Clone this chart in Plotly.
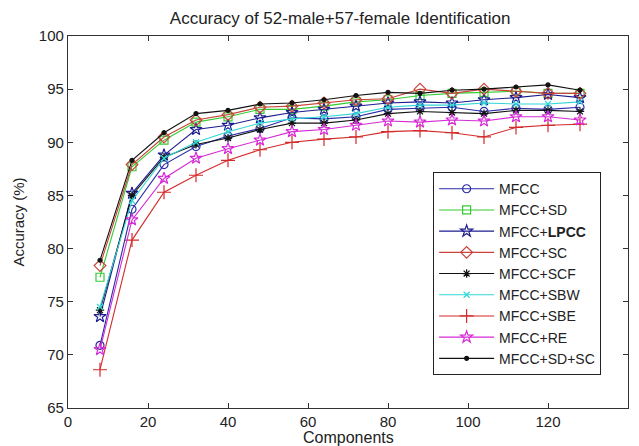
import plotly.graph_objects as go

components = [8, 16, 24, 32, 40, 48, 56, 64, 72, 80, 88, 96, 104, 112, 120, 128]

mfcc      = [70.9, 83.7, 87.9, 89.6, 90.6, 91.3, 92.3, 92.2, 92.4, 93.1, 93.2, 93.3, 92.9, 93.2, 93.1, 93.3]
mfcc_sd   = [77.3, 87.7, 90.2, 91.9, 92.4, 93.1, 93.1, 93.4, 93.8, 94.0, 94.4, 94.6, 94.7, 94.8, 94.6, 94.6]
mfcc_lpcc = [73.6, 85.2, 88.8, 91.2, 91.6, 92.3, 92.8, 93.1, 93.4, 93.7, 93.8, 93.7, 94.0, 94.2, 94.5, 94.2]
mfcc_sc   = [78.4, 87.9, 90.5, 92.1, 92.6, 93.3, 93.4, 93.7, 94.0, 94.1, 95.0, 94.6, 95.0, 94.8, 94.6, 94.6]
mfcc_scf  = [74.2, 85.0, 88.6, 89.8, 90.4, 91.2, 91.8, 91.8, 92.1, 92.7, 92.9, 92.8, 92.7, 93.0, 93.0, 92.9]
mfcc_sbw  = [74.5, 84.5, 88.5, 90.0, 91.0, 91.8, 92.2, 92.4, 92.7, 93.3, 93.5, 93.5, 93.7, 93.6, 93.6, 93.8]
mfcc_sbe  = [68.6, 80.8, 85.3, 86.9, 88.3, 89.3, 90.0, 90.3, 90.5, 91.0, 91.1, 90.9, 90.5, 91.4, 91.6, 91.7]
mfcc_re   = [70.5, 82.7, 86.6, 88.5, 89.4, 90.2, 91.0, 91.2, 91.6, 92.0, 91.9, 92.1, 92.0, 92.4, 92.4, 92.1]
mfcc_sdsc = [78.9, 88.3, 90.9, 92.7, 93.0, 93.6, 93.7, 94.0, 94.4, 94.7, 94.6, 94.9, 95.0, 95.2, 95.4, 94.9]

series_names = ["MFCC", "MFCC+SD", "MFCC+<b>LPCC</b>", "MFCC+SC", "MFCC+SCF",
                "MFCC+SBW", "MFCC+SBE", "MFCC+RE", "MFCC+SD+SC"]
series_values = [mfcc, mfcc_sd, mfcc_lpcc, mfcc_sc, mfcc_scf, mfcc_sbw, mfcc_sbe, mfcc_re, mfcc_sdsc]

styles = [
    dict(color="#2a2aa8", symbol="circle-open", size=8),
    dict(color="#33cc33", symbol="square-open", size=8),
    dict(color="#1c1c90", symbol="star-open", size=9),
    dict(color="#c8443a", symbol="diamond-open", size=9),
    dict(color="#111111", symbol="asterisk-open", size=7),
    dict(color="#33d6d6", symbol="x-thin-open", size=6),
    dict(color="#d42a2a", symbol="cross-thin-open", size=10),
    dict(color="#d62ad6", symbol="star-open", size=9),
    dict(color="#111111", symbol="circle", size=4),
]

fig = go.Figure()
for name, vals, st in zip(series_names, series_values, styles):
    fig.add_trace(go.Scatter(
        x=components, y=vals, name=name, mode="lines+markers",
        line=dict(color=st["color"], width=1.1),
        marker=dict(symbol=st["symbol"], size=st["size"], color=st["color"],
                    line=dict(color=st["color"], width=1.2)),
    ))

FONT = "Liberation Sans, Arial, sans-serif"
axis_common = dict(
    showline=True, linecolor="#333333", linewidth=1.2, mirror="ticks",
    ticks="inside", ticklen=5, tickcolor="#333333", showgrid=False, zeroline=False,
    automargin=False,
    tickfont=dict(family=FONT, size=15, color="#222222"),
)

# The page body has an 8px margin, so the figure is sized to the visible area.
fig.update_layout(
    width=631, height=438,
    margin=dict(l=60, r=11, t=28, b=38),
    paper_bgcolor="white", plot_bgcolor="white",
    title=dict(text="Accuracy of 52-male+57-female Identification",
               x=0.486, xref="paper", xanchor="center", y=0.977, yanchor="middle",
               font=dict(family=FONT, size=17, color="#222222")),
    xaxis=dict(range=[0, 140], tickvals=[0, 20, 40, 60, 80, 100, 120, 140], **axis_common),
    yaxis=dict(range=[65, 100], tickvals=[65, 70, 75, 80, 85, 90, 95, 100],
               title=dict(text="Accuracy (%)", standoff=10,
                          font=dict(family=FONT, size=15, color="#222222")),
               **axis_common),
    legend=dict(x=0.652, y=0.634, xanchor="left", yanchor="top",
                bgcolor="white", bordercolor="#222222", borderwidth=1,
                itemwidth=55, tracegroupgap=0,
                font=dict(family=FONT, size=14, color="#222222")),
    showlegend=True,
    annotations=[dict(text="Components", xref="paper", yref="paper", x=0.5, y=-0.078,
                      xanchor="center", yanchor="middle", showarrow=False,
                      font=dict(family=FONT, size=16, color="#222222"))],
)

fig.write_html("out.html")
